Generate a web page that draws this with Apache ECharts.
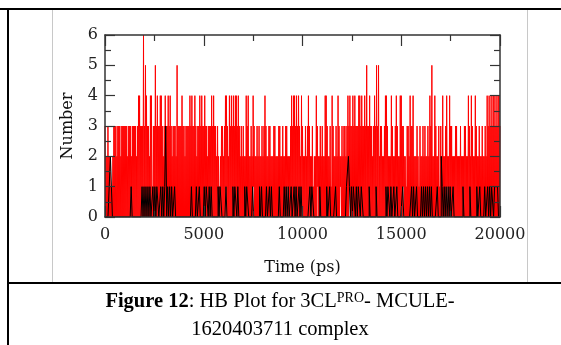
<!DOCTYPE html>
<html>
<head>
<meta charset="utf-8">
<script src="https://cdn.jsdelivr.net/npm/echarts@6/dist/echarts.min.js"></script>
<style>
  html, body { margin: 0; padding: 0; background: #fff; }
  body { position: relative; width: 561px; height: 345px; overflow: hidden; }
  #chart { position: absolute; left: 0; top: 0; width: 561px; height: 282px; }
  .rule { position: absolute; background: #000; }
  .thin { position: absolute; background: #c8c8c8; }
  .caption {
    position: absolute; left: 8px; width: 544px; top: 286px;
    text-align: center; color: #000;
    font-family: "Liberation Serif", serif; font-size: 20.5px; line-height: 28px;
  }
  .caption sup { font-size: 14px; vertical-align: 5px; line-height: 0; }
</style>
</head>
<body>
<div id="chart"></div>
<div class="thin" style="left:52px;top:10px;width:1px;height:272px"></div>
<div class="thin" style="left:527px;top:10px;width:1px;height:272px"></div>
<div class="rule" style="left:0;top:8px;width:561px;height:2px"></div>
<div class="rule" style="left:7px;top:8px;width:2px;height:337px"></div>
<div class="rule" style="left:7px;top:282px;width:554px;height:2px"></div>
<div class="caption"><b>Figure 12</b>: HB Plot for 3CL<sup>PRO</sup>- MCULE-<br>1620403711 complex</div>
<script>
// one digit per 50 ps frame
const timeStep = 50;

// red: upper value reached in each column
const redHigh = `
3223221123 3323332333 3332333233 3323443336 3543324413 3534334432 3433434323 3325333343 3233334343 3432334343
3433233343 4332321233 2344324343 4344343232 3224342232 4322323223 2343223322 2332223322 3223322234 3443434324
3223234322 3122432232 3224432231 4322324322 3233234343 3434333443 4334353343 3234353523 3223443222 4322343224
4332213324 3342223213 2232322324 3522432231 3242234224 3322233222 3222332243 2432243223 2232232434 3434434344
3`;

// red: lower value reached in each column
const redLow = `
0000000000 0000000000 0000000000 0000000000 0000000000 0000000000 0000000000 0000000000 0000000000 0000000000
0000000000 0000000000 0010000000 0000000000 0000000000 1000000000 0000000000 0000000000 0000100000 0000000000
0000000000 0000010000 0000000000 0000000010 0000000100 0000000000 0000000000 0000000000 0000000000 0000000000
0010000000 0000000000 0000000000 0000000000 0000001000 0000000000 0000000000 0000000000 0000000000 0000000000
0`;

// black: hydrogen bonds
const blackHB = `
0000002200 0000000000 0000000100 0000000010 1010101001 0101100101 0130101010 0100000000 0000000010 0001001000
0101101010 0000010110 0001000000 1011010000 0010110000 1000000101 0000100101 0000000100 0010101001 0010100101
0000000010 1100000010 0000010010 0000100000 0000011210 1011010110 1100000010 0000010000 0000010110 1001001000
0010000000 0101001000 0101010101 0100000100 0210101010 1001000000 0001000000 1000000100 1000010010 1011011110
0`;

const timeMax = 20000;
const timeTick = 5000;
const numberMax = 6;

const digits = s => s.replace(/\s+/g, "").split("").map(Number);

const highs = digits(redHigh);
const lows = digits(redLow);
const blacks = digits(blackHB);

const redData = [];
highs.forEach((v, i) => {
  redData.push([i * timeStep, v]);
  if (i < highs.length - 1) redData.push([i * timeStep + timeStep / 2, lows[i]]);
});
const blackData = blacks.map((v, i) => [i * timeStep, v]);

const frame = "#333333";
const labelFont = { fontFamily: "DejaVu Serif", fontSize: 16, color: "#222" };

const tickStyle = { lineStyle: { color: frame, width: 1.2 } };
const xBase = {
  type: "value", min: 0, max: timeMax, interval: timeTick, z: 5,
  axisLine: { onZero: false, lineStyle: { color: frame, width: 1.5 } },
  axisTick: { inside: true, length: 11, ...tickStyle },
  minorTick: { show: true, splitNumber: 2, length: 6, ...tickStyle },
  splitLine: { show: false }
};
const yBase = {
  type: "value", min: 0, max: numberMax, interval: 1, z: 5,
  axisLine: { onZero: false, lineStyle: { color: frame, width: 1.5 } },
  axisTick: { inside: true, length: 10, ...tickStyle },
  minorTick: { show: true, splitNumber: 2, length: 6, ...tickStyle },
  splitLine: { show: false }
};

const chart = echarts.init(document.getElementById("chart"), null, { renderer: "canvas" });
chart.setOption({
  animation: false,
  grid: { left: 105, right: 61, top: 35, bottom: 65 },
  xAxis: [
    {
      ...xBase, position: "bottom",
      axisLabel: { ...labelFont, margin: 10, formatter: v => String(v) },
      name: "Time (ps)", nameLocation: "middle", nameGap: 43,
      nameTextStyle: { ...labelFont, color: "#111" }
    },
    { ...xBase, position: "top", axisLabel: { show: false } }
  ],
  yAxis: [
    {
      ...yBase, position: "left",
      axisLabel: { ...labelFont, margin: 7 },
      name: "Number", nameLocation: "middle", nameGap: 29, nameRotate: 90,
      nameTextStyle: { ...labelFont, color: "#111" }
    },
    { ...yBase, position: "right", axisLabel: { show: false } }
  ],
  series: [
    {
      name: "Pairs", type: "line", data: redData, showSymbol: false, z: 2,
      lineStyle: { color: "#ff0000", width: 1 }
    },
    {
      name: "HB", type: "line", data: blackData, showSymbol: false, z: 3, step: "middle",
      lineStyle: { color: "#000000", width: 1 }
    }
  ]
});
</script>
</body>
</html>
